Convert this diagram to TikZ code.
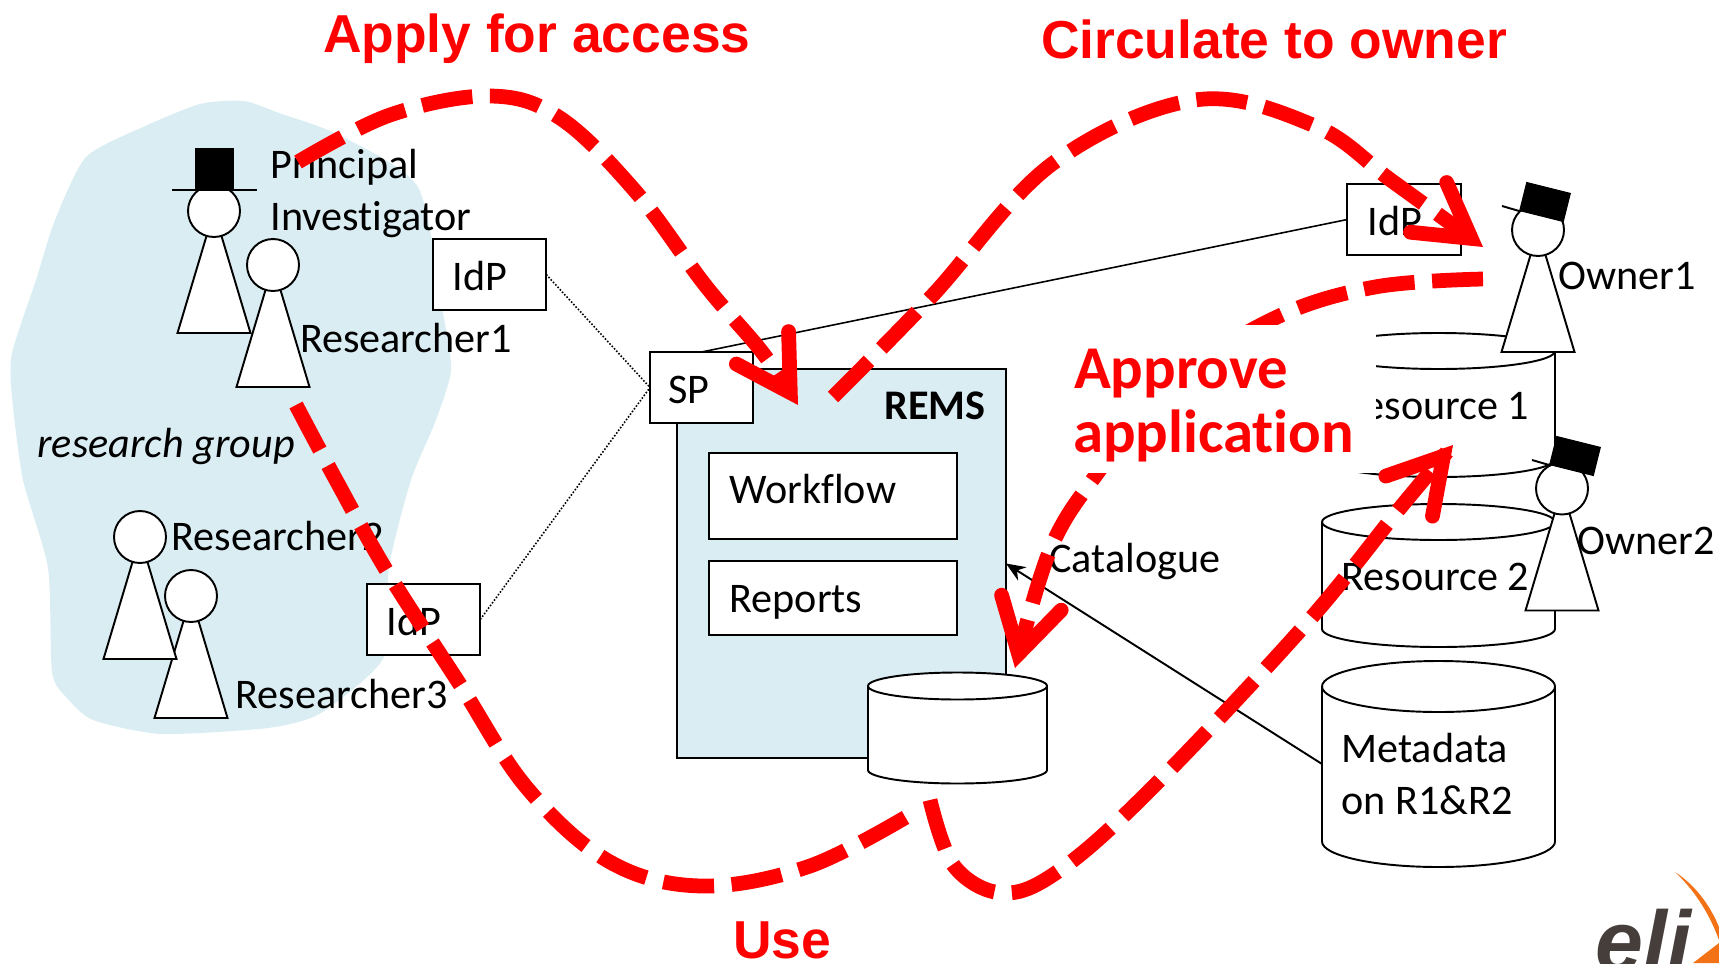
\documentclass[tikz,border=0pt]{standalone}
\usepackage{fontspec}
\setmainfont[Ligatures=CommonOff]{Carlito}
\newfontfamily\titlefont{Liberation Sans}
\usetikzlibrary{shapes.geometric, arrows, arrows.meta}
\definecolor{groupblue}{HTML}{DAEDF3}
\definecolor{redline}{HTML}{FF0000}
\definecolor{eligrey}{HTML}{453E3A}
\definecolor{eliorange}{HTML}{F47216}
\tikzstyle{txt} = [anchor=base west, inner sep=0pt, outer sep=0pt, font=\fontsize{24}{28}\selectfont]
\tikzstyle{redtitle} = [anchor=base west, inner sep=0pt, outer sep=0pt, text=redline, font=\titlefont\bfseries\fontsize{30.4}{36}\selectfont]
\tikzstyle{redbig} = [anchor=base west, inner sep=0pt, outer sep=0pt, text=redline, font=\bfseries\fontsize{34.6}{40}\selectfont]
\tikzstyle{box} = [rectangle, draw=black, fill=white, line width=1.1pt, inner sep=0pt, outer sep=0pt]
\tikzstyle{idpbox} = [box, minimum width=2.27cm, minimum height=1.42cm]
\tikzstyle{innerbox} = [box, minimum width=4.96cm]
\tikzstyle{canframe} = [rectangle, inner sep=0pt, outer sep=0pt, minimum height=2cm]
\tikzstyle{canline} = [draw=black, fill=white, line width=1.1pt]
\tikzstyle{headcirc} = [circle, draw=black, fill=white, line width=1.1pt, inner sep=0pt, outer sep=0pt, minimum size=1.04cm]
\tikzstyle{body} = [draw=black, fill=white, line width=1.1pt, line join=miter]
\tikzstyle{hat} = [rectangle, fill=black, inner sep=0pt, outer sep=0pt]
\tikzstyle{brim} = [draw=black, line width=1.1pt]
\tikzstyle{thin link} = [black, line width=0.9pt]
\tikzstyle{dotted link} = [black, line width=0.9pt, densely dotted]
\tikzstyle{arrow} = [black, line width=1.1pt, -{Stealth[length=11pt, width=9pt]}]
\tikzstyle{redpath} = [redline, line width=8.4pt, dash pattern=on 29pt off 10pt]
\tikzstyle{redarrow} = [redpath, -{Straight Barb[length=30pt, width=35pt, line cap=round, line join=miter]}]
\newcommand{\persona}[3]{%
  \draw [body] (#2,#3) -- ++(-36.5,122) -- ++(73,0) -- cycle;
  \node (#1) [headcirc] at (#2,#3) {};
}
% name, centre x, y of the lid, y where the side ends, half width, lid half height
\newcommand{\can}[6]{%
  \draw [canline] ({#2-#5},#3) arc [start angle=180, end angle=0, x radius=#5*0.02cm, y radius=#6*0.02cm] -- ({#2+#5},#4) arc [start angle=0, end angle=-180, x radius=#5*0.02cm, y radius=#6*0.02cm] -- cycle;
  \draw [canline, fill=none] ({#2-#5},#3) arc [start angle=180, end angle=360, x radius=#5*0.02cm, y radius=#6*0.02cm];
  \node (#1) [canframe, minimum width=2*#5*0.02cm] at (#2,{(#3+#4)/2}) {};
}
\begin{document}
\begin{tikzpicture}[x=0.02cm, y=-0.02cm]
        \useasboundingbox (0,0) rectangle (1719,963);
        % research group
        \fill [groupblue] plot [smooth cycle, tension=0.4] coordinates {(244,101) (279,113) (339,135) (418,187) (443,313) (451,370) (436,420) (411,480) (389,567) (384,657) (321,713) (268,728) (161,734) (93,720) (66,697) (52,672) (48,568) (23,480) (12,397) (12,353) (36,280) (55,220) (86,157) (143,127) (200,104)};
        \node (principal) [txt] at (270.5,178) {Principal};
        \node (investigator) [txt] at (270.5,230) {Investigator};
        \node (group) [txt, font=\fontsize{24}{28}\selectfont\itshape] at (37.5,457) {research group};

        \persona{pi}{214}{211}
        \node (pihat) [hat, minimum width=0.78cm, minimum height=0.84cm] at (214.5,169) {};
        \coordinate (pibrimleft) at (172,190);
        \coordinate (pibrimright) at (257,190);
        \draw [brim] (pibrimleft) -- (pibrimright);
        \persona{researcherone}{273}{265}
        \node (labelone) [txt] at (300,352) {Researcher1};
        \persona{researcherthree}{191}{596}
        \persona{researchertwo}{140}{537}
        \node (labeltwo) [txt] at (171.5,550) {Researcher2};
        \node (labelthree) [txt] at (235.5,708) {Researcher3};

        % identity providers and REMS
        \node (idpone) [idpbox] at (489.5,274.5) {};
        \node (idptwo) [idpbox] at (423.5,619.5) {};
        \node (idpthree) [idpbox] at (1404,219.5) {};
        \node (rems) [box, fill=groupblue, minimum width=6.58cm, minimum height=7.78cm] at (841.5,563.5) {};
        \node (sp) [box, minimum width=2.06cm, minimum height=1.42cm] at (701.5,387.5) {};
        \draw [dotted link] (idpone.east) -- (sp.west);
        \draw [dotted link] (idptwo.east) -- (sp.west);
        \draw [thin link] (sp.north) -- (idpthree.west);
        \node (idponetext) [txt] at (452.5,290) {IdP};
        \node (idptwotext) [txt] at (386.5,635) {IdP};
        \node (idpthreetext) [txt] at (1367.5,235) {IdP};
        \node (sptext) [txt] at (668.5,403) {SP};
        \node (remstext) [txt, font=\fontsize{24}{28}\selectfont\bfseries] at (884.5,419) {REMS};
        \node (workflow) [innerbox, minimum height=1.72cm] at (833,496) {};
        \node (workflowtext) [txt] at (729.5,503) {Workflow};
        \node (reports) [innerbox, minimum height=1.48cm] at (833,598) {};
        \node (reportstext) [txt] at (729.5,612) {Reports};
        \can{catalogue}{957.5}{686}{770}{89.5}{13.5}

        % resources
        \can{resourceone}{1438.5}{351}{459}{116.5}{18}
        \node (resourceonetext) [txt] at (1341.5,419) {Resource 1};
        \can{resourcetwo}{1438.5}{522}{629}{116.5}{18}
        \node (resourcetwotext) [txt] at (1341.5,590) {Resource 2};
        \can{metadata}{1438.5}{686.5}{841.5}{116.5}{25.5}
        \node (metadatatext) [txt] at (1341.5,762) {Metadata};
        \node (metadatatexttwo) [txt] at (1341.5,814) {on R1\&R2};
        \draw [arrow] (metadata.west) -- (rems.east);
        \node (cataloguetext) [txt] at (1049.5,572) {Catalogue};

        % owners
        \persona{ownerone}{1538}{230}
        \node (owneronehat) [hat, rotate=-14, minimum width=0.92cm, minimum height=0.6cm] at (1545,202) {};
        \coordinate (brimone) at (1502,206);
        \draw [brim] (brimone) -- (owneronehat.south west);
        \node (owneronetext) [txt] at (1558.5,289) {Owner1};
        \persona{ownertwo}{1562}{488.5}
        \node (ownertwohat) [hat, rotate=-14, minimum width=0.92cm, minimum height=0.6cm] at (1575,456) {};
        \coordinate (brimtwo) at (1532,460);
        \draw [brim] (brimtwo) -- (ownertwohat.south west);
        \node (ownertwotext) [txt] at (1577.5,554) {Owner2};

        % approve goes behind its white box
        \coordinate (approvestart) at (1483,279);
        \coordinate (approveend) at (1015,668);
        \draw [redarrow] plot [smooth, tension=0.6] coordinates {(approvestart) (1375,287) (1275,318) (1170,385) (1096,475) (1050,550) (approveend)};
        \node (approvebox) [fill=white, inner sep=0pt, minimum width=6.16cm, minimum height=2.96cm] at (1222,399) {};
        \node (approvetext) [redbig] at (1074,388) {Approve};
        \node (applicationtext) [redbig] at (1073,452) {application};

        % the other red paths
        \coordinate (applystart) at (298,162);
        \coordinate (applyend) at (798,405);
        \draw [redarrow] plot [smooth, tension=0.6] coordinates {(applystart) (390,115) (490,96) (560,118) (636,192) (705,285) (762,352) (applyend)};
        \coordinate (circulatestart) at (833,397);
        \coordinate (circulateend) at (1483,247);
        \draw [redarrow] plot [smooth, tension=0.6] coordinates {(circulatestart) (932,296) (1052,164) (1195,100) (1315,126) (1392,181) (circulateend)};
        \coordinate (usestart) at (296,405);
        \coordinate (useend) at (913,813);
        \draw [redpath] plot [smooth, tension=0.6] coordinates {(usestart) (336,480) (388,573) (459,683) (527,788) (610,862) (702,886) (810,866) (useend)};
        \coordinate (backstart) at (930,800);
        \coordinate (backend) at (1453,445);
        \draw [redarrow] plot [smooth, tension=0.6] coordinates {(backstart) (954,866) (1003,893) (1060,870) (1151,789) (1305,625) (1400,508) (backend)};

        \node (applytext) [redtitle] at (323,53) {Apply for access};
        \node (circulatetext) [redtitle] at (1041,59) {Circulate to owner};
        \node (usetext) [redtitle] at (733,958) {Use};

        % logo in the corner
        \fill [eliorange] (1675,872) .. controls (1695,885) and (1710,905) .. (1719,927) -- (1719,940) .. controls (1708,910) and (1692,888) .. cycle;
        \fill [eliorange] (1693,963) -- (1719,943) -- (1719,963) -- cycle;
        \node (elitext) [anchor=base west, inner sep=0pt, text=eligrey, font=\titlefont\bfseries\itshape\fontsize{49}{55}\selectfont] at (1595,971) {eli};
\end{tikzpicture}
\end{document}
